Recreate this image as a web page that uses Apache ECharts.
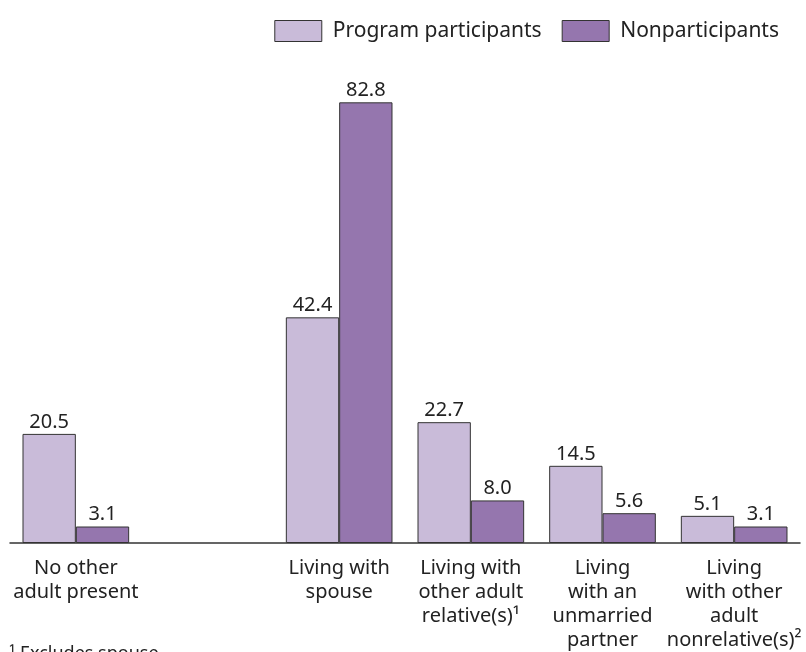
<!DOCTYPE html>
<html>
<head>
<meta charset="utf-8">
<script src="https://cdn.jsdelivr.net/npm/echarts@6/dist/echarts.min.js"></script>
<style>html,body{margin:0;padding:0;background:#fff}#c{width:806px;height:652px}</style>
</head>
<body>
<div id="c"></div>
<script>
const categories = ['No other\nadult present', '', 'Living with\nspouse', 'Living with\nother adult\nrelative(s)¹', 'Living\nwith an\nunmarried\npartner', 'Living\nwith other\nadult\nnonrelative(s)²'];
const participants = [20.5, null, 42.4, 22.7, 14.5, 5.1];
const nonparticipants = [3.1, null, 82.8, 8.0, 5.6, 3.1];
const seriesNames = ['Program participants', 'Nonparticipants'];
const footnote = '¹ Excludes spouse.';

const FONT = '"Noto Sans", sans-serif';
const chart = echarts.init(document.getElementById('c'));
const labelCfg = {
  show: true, position: 'top', distance: 2,
  fontFamily: FONT, fontSize: 20, color: '#222',
  formatter: p => p.value == null ? '' : Number(p.value).toFixed(1)
};
chart.setOption({
  animation: false,
  legend: {
    top: 15, right: 22, itemWidth: 47, itemHeight: 21, itemGap: 20, icon: 'rect',
    itemStyle: { borderColor: '#333', borderWidth: 1 },
    textStyle: { fontFamily: FONT, fontSize: 21, color: '#222', padding: [0, 0, 0, 6] },
    data: seriesNames
  },
  grid: { left: 10, right: 6, top: 64, bottom: 107, containLabel: false },
  xAxis: {
    type: 'category', data: categories,
    axisLine: { lineStyle: { color: '#333', width: 1.5 } },
    axisTick: { show: false },
    axisLabel: { interval: 0, margin: 13, fontFamily: FONT, fontSize: 20, color: '#222', lineHeight: 24, align: 'center', verticalAlign: 'top' }
  },
  yAxis: { type: 'value', min: 0, max: 90, show: false, splitLine: { show: false } },
  series: [
    { name: seriesNames[0], type: 'bar', data: participants, barGap: '0%', barCategoryGap: '19%',
      itemStyle: { color: '#C9BBD9', borderColor: '#333', borderWidth: 1 }, label: labelCfg },
    { name: seriesNames[1], type: 'bar', data: nonparticipants,
      itemStyle: { color: '#9576AE', borderColor: '#333', borderWidth: 1 }, label: labelCfg }
  ],
  graphic: [{ type: 'text', left: 9, top: 645, style: { text: footnote, fontFamily: FONT, fontSize: 18, fill: '#222' } }]
});
</script>
</body>
</html>
